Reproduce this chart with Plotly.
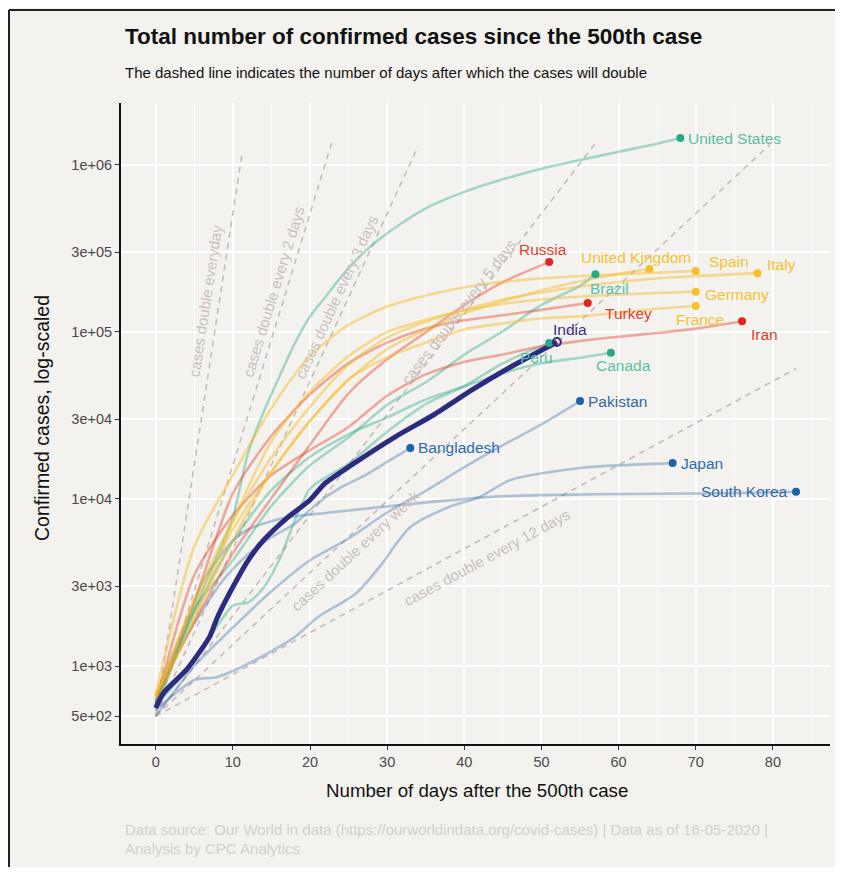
import numpy as np
import plotly.graph_objects as go

# ---------------- data ----------------
us_days = [0, 3, 5, 8, 10, 12, 14, 16, 18, 20, 22, 24, 26, 28, 30, 35, 40, 45, 50, 55, 60, 65, 68]
us_cases = [540, 1280, 2180, 4630, 7790, 19100, 33300, 53700, 85000, 124000, 162000, 213000,
            270000, 330000, 390000, 550000, 690000, 820000, 950000, 1070000, 1200000, 1340000, 1450000]

russia_days = [0, 5, 10, 15, 20, 25, 30, 35, 40, 45, 51]
russia_cases = [660, 1840, 4730, 10100, 21100, 42900, 68600, 99400, 145000, 199000, 262000]

turkey_days = [0, 5, 10, 15, 20, 25, 30, 35, 40, 45, 50, 56]
turkey_cases = [670, 2430, 10800, 23900, 42300, 65100, 86300, 104900, 117600, 126000, 135600, 149000]

iran_days = [0, 5, 10, 15, 20, 25, 30, 35, 40, 45, 50, 55, 60, 65, 70, 76]
iran_cases = [590, 3500, 8000, 13900, 19600, 27000, 41500, 55700, 66200, 73300, 82200, 88200,
              93700, 98600, 104700, 116000]

italy_days = [0, 5, 10, 15, 20, 25, 30, 35, 40, 45, 50, 55, 60, 65, 70, 78]
italy_cases = [650, 2500, 7400, 17700, 35700, 63900, 92500, 115200, 135600, 156400, 172400,
               187300, 199400, 209300, 215900, 225000]

spain_days = [0, 5, 10, 15, 20, 25, 30, 36, 42, 50, 60, 70]
spain_cases = [673, 5200, 13900, 35100, 72200, 110200, 141900, 169500, 191700, 209500, 221400, 232000]

uk_days = [0, 5, 10, 15, 20, 25, 30, 35, 40, 45, 50, 55, 60, 64]
uk_cases = [590, 1950, 5700, 14500, 29500, 51600, 79000, 103100, 129000, 152800, 177500,
            201100, 223100, 238000]

germany_days = [0, 5, 10, 15, 20, 25, 30, 35, 40, 45, 50, 55, 60, 65, 70]
germany_cases = [670, 1900, 7300, 22200, 43900, 71800, 100100, 118200, 134800, 147100, 156500,
                 163000, 167300, 171300, 174000]

france_days = [0, 5, 10, 15, 20, 25, 30, 35, 40, 45, 50, 55, 60, 65, 70]
france_cases = [650, 2300, 6600, 14500, 29200, 52100, 70500, 86300, 103600, 112600, 120800,
                124100, 130200, 137800, 143000]

brazil_days = [0, 5, 10, 15, 20, 25, 30, 35, 40, 45, 50, 55, 57]
brazil_cases = [620, 2200, 4300, 9100, 15900, 23400, 36600, 50000, 73200, 101100, 145300, 189000, 222000]

canada_days = [0, 5, 10, 15, 20, 25, 30, 35, 40, 45, 50, 55, 59]
canada_cases = [600, 2100, 5600, 11300, 17900, 24400, 30800, 39400, 47300, 56700, 64900, 70100, 75000]

peru_days = [0, 5, 10, 12, 14, 16, 20, 25, 30, 35, 40, 45, 51]
peru_cases = [580, 1070, 2300, 2400, 2950, 4300, 11500, 16300, 25300, 37000, 47400, 65000, 86000]

pakistan_days = [0, 5, 10, 15, 20, 25, 30, 35, 40, 45, 50, 55]
pakistan_cases = [500, 1000, 1700, 2800, 4300, 5800, 8300, 11200, 15500, 21000, 28000, 38600]

bangladesh_days = [0, 3, 6, 9, 12, 15, 18, 21, 24, 27, 30, 33]
bangladesh_cases = [620, 1230, 2140, 3380, 4690, 5910, 7100, 9460, 11720, 13770, 16660, 20200]

japan_days = [0, 5, 8, 13, 18, 21, 26, 29, 33, 38, 42, 46, 55, 67]
japan_cases = [546, 824, 860, 1090, 1490, 1960, 2730, 3920, 6790, 8950, 10280, 13000, 15340, 16400]

korea_days = [0, 2, 4, 6, 8, 10, 12, 14, 17, 22, 32, 44, 57, 73, 83]
korea_cases = [602, 977, 1770, 3150, 4340, 5620, 6590, 7130, 7760, 8240, 9240, 10330, 10670, 10810, 11040]

india_days = [0, 1, 4, 7, 8, 10, 12, 14, 17, 20, 22, 25, 31, 36, 41, 46, 52]
india_cases = [560, 690, 950, 1500, 1960, 2970, 4310, 5680, 7690, 9860, 12470, 15560, 23500,
               31840, 44980, 61700, 87100]

# doubling guide lines
doubling_periods = [1, 2, 3, 5, 7, 12]
doubling_end_days = [11.2, 22.8, 34.0, 57.2, 79.6, 83.0]
doubling_labels = ["cases double everyday", "cases double every 2 days", "cases double every 3 days",
                   "cases double every 5 days", "cases double every week", "cases double every 12 days"]
start_cases = 500

y_tick_vals = [500, 1000, 3000, 10000, 30000, 100000, 300000, 1000000]
y_tick_text = ["5e+02", "1e+03", "3e+03", "1e+04", "3e+04", "1e+05", "3e+05", "1e+06"]
x_tick_vals = [0, 10, 20, 30, 40, 50, 60, 70, 80]

# ---------------- styling ----------------
FONT = "Liberation Sans, Arial, Helvetica, sans-serif"
BG = "#f3f2ee"
OFF = 8  # page body margin
W, H = 843 - 2 * OFF, 875 - 2 * OFF
L, T = 121 - OFF, 103 - OFF
R, B = W - (830 - OFF), H - (744 - OFF)
PW, PH = W - L - R, H - T - B
XR = [-4.5, 87.4]
YR = [2.533, 6.371]


def px2x(px):
    return (px - OFF - L) / PW


def px2y(py):
    return (H - B - (py - OFF)) / PH


COL = {
    "red": dict(m="#e3261f", l="rgba(228,62,40,0.42)", t="#e0402e"),
    "yel": dict(m="#f5c02c", l="rgba(245,188,40,0.48)", t="#f2c234"),
    "tea": dict(m="#2aa987", l="rgba(42,169,135,0.40)", t="#5cbfa3"),
    "blu": dict(m="#1d62a6", l="rgba(40,100,160,0.34)", t="#2f6aab"),
}

# name, days, cases, color group, label xanchor, xshift, yshift
countries = [
    ("South Korea", korea_days, korea_cases, "blu", "right", -6, 0),
    ("Japan", japan_days, japan_cases, "blu", "left", 6, 0),
    ("Pakistan", pakistan_days, pakistan_cases, "blu", "left", 6, 0),
    ("Bangladesh", bangladesh_days, bangladesh_cases, "blu", "left", 6, 0),
    ("Peru", peru_days, peru_cases, "tea", "center", -13, -15),
    ("Canada", canada_days, canada_cases, "tea", "center", 13, -13),
    ("Brazil", brazil_days, brazil_cases, "tea", "center", 14, -14),
    ("United States", us_days, us_cases, "tea", "left", 6, 0),
    ("Iran", iran_days, iran_cases, "red", "left", 7, -13),
    ("Turkey", turkey_days, turkey_cases, "red", "left", 15, -10),
    ("Russia", russia_days, russia_cases, "red", "center", -6, 13),
    ("France", france_days, france_cases, "yel", "center", 4, -13),
    ("Germany", germany_days, germany_cases, "yel", "left", 7, -3),
    ("Italy", italy_days, italy_cases, "yel", "left", 8, 9),
    ("Spain", spain_days, spain_cases, "yel", "left", 11, 9),
    ("United Kingdom", uk_days, uk_cases, "yel", "center", -13, 12),
]

fig = go.Figure()

# doubling lines
for per, end in zip(doubling_periods, doubling_end_days):
    xs = [0, end]
    ys = [start_cases, start_cases * 2 ** (end / per)]
    fig.add_trace(go.Scatter(x=xs, y=ys, mode="lines", hoverinfo="skip", showlegend=False,
                             line=dict(color="#c8bcba", width=1.6, dash="6px,5px")))

# country lines
for name, d, c, g, *_ in countries:
    fig.add_trace(go.Scatter(x=d, y=c, mode="lines", name=name, showlegend=False,
                             line=dict(color=COL[g]["l"], width=2.6, shape="spline", smoothing=0.7)))

# India line on top
fig.add_trace(go.Scatter(x=india_days, y=india_cases, mode="lines", name="India", showlegend=False,
                         line=dict(color="#2b2c7f", width=5, shape="spline", smoothing=0.6)))

# end markers
for name, d, c, g, *_ in countries:
    fig.add_trace(go.Scatter(x=[d[-1]], y=[c[-1]], mode="markers", showlegend=False,
                             marker=dict(color=COL[g]["m"], size=8, line=dict(width=0)),
                             cliponaxis=False))
fig.add_trace(go.Scatter(x=[india_days[-1]], y=[india_cases[-1]], mode="markers", showlegend=False,
                         marker=dict(symbol="circle-open", color="#3a2a7a", size=8,
                                     line=dict(width=2, color="#3a2a7a")),
                         cliponaxis=False))

LAB = 15.5
ann = []
# country labels
for name, d, c, g, xa, xs, ys in countries:
    ann.append(dict(x=d[-1], y=np.log10(c[-1]), xref="x", yref="y", text=name, showarrow=False,
                    xanchor=xa, yanchor="middle", xshift=xs, yshift=ys,
                    font=dict(family=FONT, size=LAB, color=COL[g]["t"])))
ann.append(dict(x=india_days[-1], y=np.log10(india_cases[-1]), xref="x", yref="y", text="India",
                showarrow=False, xanchor="center", yanchor="middle", xshift=13, yshift=12,
                font=dict(family=FONT, size=LAB, color="#3c2f80")))

# doubling labels: (day, cases) position of text centre and angle
dbl_pos = [(6.5, 153500), (15.3, 174000), (23.5, 162000), (39.3, 132000), (25.9, 4890), (42.9, 4440)]
for (dx, dy), per, lab in zip(dbl_pos, doubling_periods, doubling_labels):
    slope_px = (np.log10(2) / per * (PH / (YR[1] - YR[0]))) / (PW / (XR[1] - XR[0]))
    ang = -np.degrees(np.arctan(slope_px))
    ann.append(dict(x=dx, y=np.log10(dy), xref="x", yref="y", text=lab, showarrow=False,
                    textangle=ang, xanchor="center", yanchor="middle",
                    font=dict(family=FONT, size=15, color="#c9bfbd")))

# titles
ann += [
    dict(x=px2x(123), y=px2y(36), xref="paper", yref="paper",
         text="<b>Total number of confirmed cases since the 500th case</b>",
         showarrow=False, xanchor="left", yanchor="middle", font=dict(family=FONT, size=22.5, color="#111111")),
    dict(x=px2x(123), y=px2y(73), xref="paper", yref="paper",
         text="The dashed line indicates the number of days after which the cases will double",
         showarrow=False, xanchor="left", yanchor="middle", font=dict(family=FONT, size=15, color="#111111")),
    dict(x=px2x(477), y=px2y(790), xref="paper", yref="paper", text="Number of days after the 500th case",
         showarrow=False, xanchor="center", yanchor="middle", font=dict(family=FONT, size=18.7, color="#111111")),
    dict(x=px2x(42), y=px2y(418), xref="paper", yref="paper", text="Confirmed cases, log-scaled",
         showarrow=False, textangle=-90, xanchor="center", yanchor="middle",
         font=dict(family=FONT, size=19.5, color="#111111")),
    dict(x=px2x(123), y=px2y(830), xref="paper", yref="paper",
         text="Data source: Our World in data (https://ourworldindata.org/covid-cases) | Data as of 16-05-2020 |",
         showarrow=False, xanchor="left", yanchor="middle", font=dict(family=FONT, size=15, color="#d4d0cb")),
    dict(x=px2x(123), y=px2y(848), xref="paper", yref="paper", text="Analysis by CPC Analytics",
         showarrow=False, xanchor="left", yanchor="middle", font=dict(family=FONT, size=15, color="#d4d0cb")),
]

shapes = [
    dict(type="line", xref="paper", yref="paper", x0=px2x(9), x1=px2x(850), y0=px2y(10), y1=px2y(10),
         line=dict(color="#222222", width=2), layer="above"),
    dict(type="line", xref="paper", yref="paper", x0=px2x(9), x1=px2x(9), y0=px2y(10), y1=px2y(880),
         line=dict(color="#222222", width=2), layer="above"),
]

fig.update_layout(
    width=W, height=H, margin=dict(l=L, r=R, t=T, b=B, pad=0),
    paper_bgcolor=BG, plot_bgcolor=BG, showlegend=False,
    font=dict(family=FONT, color="#333333"),
    annotations=ann, shapes=shapes,
    xaxis=dict(range=XR, tickvals=x_tick_vals, ticks="outside", ticklen=4, tickwidth=1,
               tickcolor="#333333", showline=True, linecolor="#111111", linewidth=2,
               showgrid=True, gridcolor="#ffffff", gridwidth=1.5, zeroline=False,
               tickfont=dict(family=FONT, size=14.5, color="#4a4a4a"),
               minor=dict(dtick=5, tick0=0, showgrid=True, gridcolor="#ffffff", gridwidth=0.8, ticks="")),
    yaxis=dict(type="log", range=YR, tickvals=y_tick_vals, ticktext=y_tick_text,
               ticks="outside", ticklen=4, tickwidth=1, tickcolor="#333333",
               showline=True, linecolor="#111111", linewidth=2,
               showgrid=True, gridcolor="#ffffff", gridwidth=1.5, zeroline=False,
               tickfont=dict(family=FONT, size=14.5, color="#4a4a4a")),
)

fig.write_html("out.html")
